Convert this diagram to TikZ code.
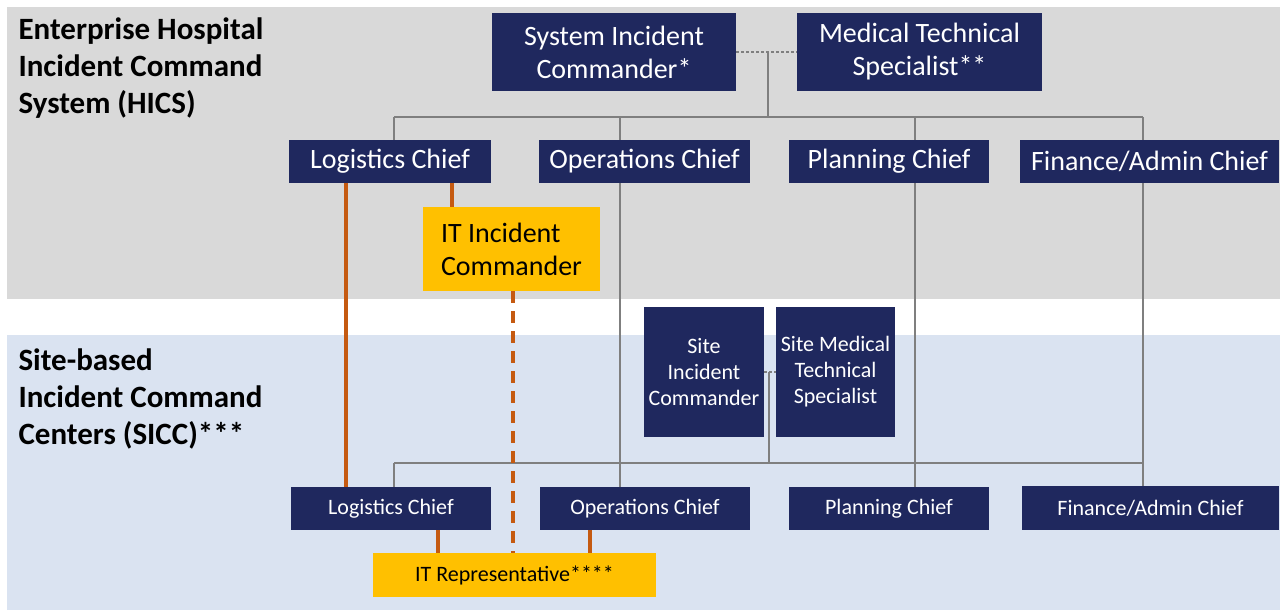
\documentclass[tikz,border=0pt]{standalone}
\usepackage{fontspec}
\setmainfont{Carlito}
\usepackage{tikz}
\usetikzlibrary{calc}
\definecolor{hicsnavy}{HTML}{1F285E}
\definecolor{hicsgold}{HTML}{FFC000}
\definecolor{hicsrust}{HTML}{C55A11}
\definecolor{hicsgray}{HTML}{D9D9D9}
\definecolor{siccblue}{HTML}{DAE3F1}
\definecolor{treegray}{HTML}{7F7F7F}
\pgfdeclarelayer{panel}
\pgfdeclarelayer{wires}
\pgfsetlayers{panel,wires,main}
\tikzset{
  navybox/.style={fill=hicsnavy, text=white, inner sep=0pt, align=center},
  goldbox/.style={fill=hicsgold, text=black, inner sep=0pt, align=center},
  tree/.style={draw=treegray, line width=1.2pt},
  treedash/.style={tree, dash pattern=on 3pt off 2pt},
  itlink/.style={draw=hicsrust, line width=3.5pt},
  itdash/.style={itlink, dash pattern=on 12pt off 8pt},
  bigtxt/.style={font=\fontsize{28}{33}\selectfont},
  smalltxt/.style={font=\fontsize{22}{26}\selectfont},
  headtxt/.style={font=\fontsize{31}{37}\selectfont\bfseries, align=left, anchor=west}
}

\begin{document}
\begin{tikzpicture}[x=1pt, y=-1pt]
		%%%%% START %%%%%
		\useasboundingbox (0,0) rectangle (1280,610);
		
		\begin{pgfonlayer}{panel}
		\fill[hicsgray] (7,7) rectangle (1280,299);
		\fill[siccblue] (7,335) rectangle (1280,610);
		\end{pgfonlayer}
		
		\node[headtxt] (hics) at (15,68) {Enterprise Hospital\\Incident Command\\System (HICS)};
		\node[headtxt] (sicc) at (15,399) {Site-based\\Incident Command\\Centers (SICC)***};
		
		% enterprise level
		\node[navybox, bigtxt, minimum width=244, minimum height=78] (sysic) at (614,52) {System Incident\\Commander*};
		\node[navybox, bigtxt, minimum width=245, minimum height=78] (medts) at (919.5,52) {Medical Technical\\Specialist**};
		
		\node[navybox, bigtxt, minimum width=202, minimum height=43] (logT) at (390,161.5) {Logistics Chief};
		\node[navybox, bigtxt, minimum width=211, minimum height=43] (opsT) at (644.5,161.5) {Operations Chief};
		\node[navybox, bigtxt, minimum width=200, minimum height=43] (plnT) at (889,161.5) {Planning Chief};
		\node[navybox, bigtxt, minimum width=259, minimum height=43] (finT) at (1149.5,161) {Finance/Admin Chief};
		
		\node[goldbox, bigtxt, align=left, minimum width=177, minimum height=84] (itic) at (511.5,249) {IT Incident\\Commander};
		
		% site level
		\node[navybox, smalltxt, minimum width=120, minimum height=130] (siteic) at (704,372) {Site\\Incident\\Commander};
		\node[navybox, smalltxt, minimum width=119, minimum height=130] (sitemt) at (835.5,372) {Site Medical\\Technical\\Specialist};
		
		\node[navybox, smalltxt, minimum width=200, minimum height=43] (logB) at (391,508.5) {Logistics Chief};
		\node[navybox, smalltxt, minimum width=210, minimum height=43] (opsB) at (645,508.5) {Operations Chief};
		\node[navybox, smalltxt, minimum width=200, minimum height=43] (plnB) at (889,508.5) {Planning Chief};
		\node[navybox, smalltxt, minimum width=257, minimum height=44] (finB) at (1150.5,508) {Finance/Admin Chief};
		
		\node[goldbox, smalltxt, minimum width=283, minimum height=44] (itrep) at (514.5,575) {IT Representative****};
		
		\coordinate (hubT) at (768,52);
		\coordinate (busTL) at (394,117);
		\coordinate (busTR) at (1143,117);
		\coordinate (hubB) at (769,372);
		\coordinate (busBL) at (394,463);
		\coordinate (busBR) at (1143,463);
		
		\begin{pgfonlayer}{wires}
		\draw[treedash] (sysic.east) -- (medts.west);
		\draw[tree] (hubT) -- (hubT |- busTL);
		\draw[tree] (busTL) -- (busTR);
		\draw[tree] (busTL) -- (busTL |- logT.north);
		\draw[tree] (busTL -| 620,0) -- (opsB.north -| 620,0);
		\draw[tree] (busTL -| 915,0) -- (plnB.north -| 915,0);
		\draw[tree] (busTR) -- (busTR |- finB.north);
		
		\draw[treedash] (siteic.east) -- (sitemt.west);
		\draw[tree] (hubB) -- (hubB |- busBL);
		\draw[tree] (busBL) -- (busBR);
		\draw[tree] (busBL) -- (busBL |- logB.north);
		
		\draw[itlink] ([xshift=-44pt]logT.south) -- ([xshift=-44pt]logT.south |- logB.north);
		\draw[itlink] ([xshift=62pt]logT.south) -- ([xshift=62pt]logT.south |- itic.north);
		\draw[itdash] ([xshift=1.5pt]itic.south) -- ([xshift=1.5pt]itic.south |- itrep.north);
		\draw[itlink] ([xshift=47pt]logB.south) -- ([xshift=47pt]logB.south |- itrep.north);
		\draw[itlink] ([xshift=-55pt]opsB.south) -- ([xshift=-55pt]opsB.south |- itrep.north);
		\end{pgfonlayer}
		%%%%% END %%%%%
	\end{tikzpicture}
\end{document}
